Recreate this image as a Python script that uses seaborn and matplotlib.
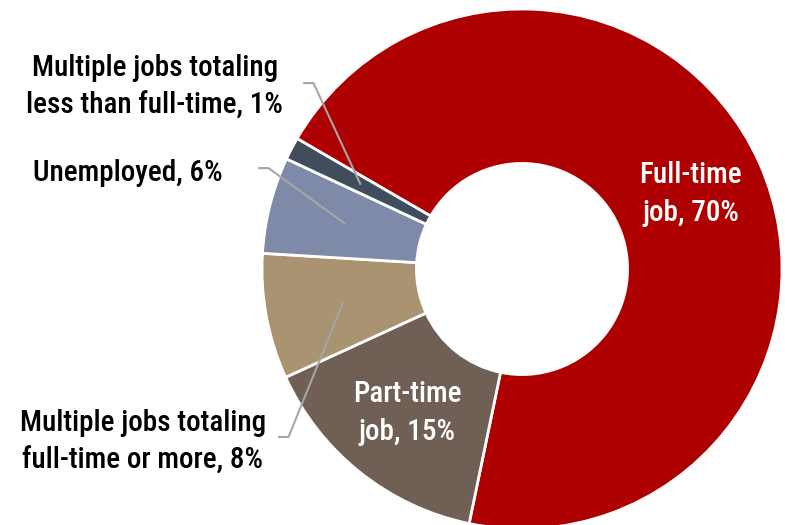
import numpy as np
import matplotlib
matplotlib.use("Agg")
import matplotlib.pyplot as plt
from matplotlib import font_manager as fm
import seaborn as sns

# ---- data ----
categories = ["Full-time job", "Part-time job",
              "Multiple jobs totaling full-time or more",
              "Unemployed", "Multiple jobs totaling less than full-time"]
label_names = ["Full-time\njob", "Part-time\njob",
               "Multiple jobs totaling\nfull-time or more",
               "Unemployed", "Multiple jobs totaling\nless than full-time"]
shares = [69.9, 14.9, 7.8, 6.0, 1.4]
colors = ["#AE0000", "#6F5F55", "#A99370", "#7F8AA8", "#414D5C"]
inside = [True, True, False, False, False]

# outside label placement (data coords): text centre, line start
text_pos = {2: (-1.458, -0.665), 3: (-1.515, 0.369), 4: (-1.412, 0.700)}
line_start = {2: (-0.938, -0.646), 3: (-1.015, 0.388), 4: (-0.842, 0.715)}

sns.set_theme(style="white")
available = {f.name for f in fm.fontManager.ttflist}
prefs = ["Roboto Condensed", "Archivo Narrow", "PT Sans Narrow",
         "Fira Sans Condensed", "Barlow Semi Condensed", "Sofia Sans Condensed",
         "Liberation Sans Narrow", "DejaVu Sans"]
chosen = [p for p in prefs if p in available][0]
plt.rcParams["font.family"] = [chosen, "DejaVu Sans"]

fig = plt.figure(figsize=(7.85, 5.25), dpi=100)
ax = fig.add_axes([0, 0, 1, 1])
wedges, _ = ax.pie(shares, colors=colors, startangle=149.9, counterclock=False,
                   radius=1.0,
                   wedgeprops=dict(width=0.594, edgecolor="white", linewidth=2))
ax.set_aspect("auto")
ax.set_xlim(-2.0077, 1.0115)
ax.set_ylim(-0.9846, 1.0346)
ax.axis("off")

fs = 21
ls = 1.45
for i, w in enumerate(wedges):
    mid = np.deg2rad((w.theta1 + w.theta2) / 2)
    txt = f"{label_names[i]}, {round(shares[i])}%"
    if inside[i]:
        r = 0.71
        ax.text(r * np.cos(mid), r * np.sin(mid), txt, color="white",
                ha="center", va="center", fontsize=fs, linespacing=ls,
                fontweight="medium")
    else:
        r = 0.70
        ax_, ay_ = r * np.cos(mid), r * np.sin(mid)
        sx, sy = line_start[i]
        ex = sx + 0.04
        ax.plot([sx, ex, ax_], [sy, sy, ay_], color="#A6A6A6", lw=1.5,
                solid_capstyle="butt")
        tx, ty = text_pos[i]
        ax.text(tx, ty, txt, color="black", ha="center", va="center",
                fontsize=fs, linespacing=ls, multialignment="center",
                fontweight="medium")

fig.savefig("out.png", dpi=100)
